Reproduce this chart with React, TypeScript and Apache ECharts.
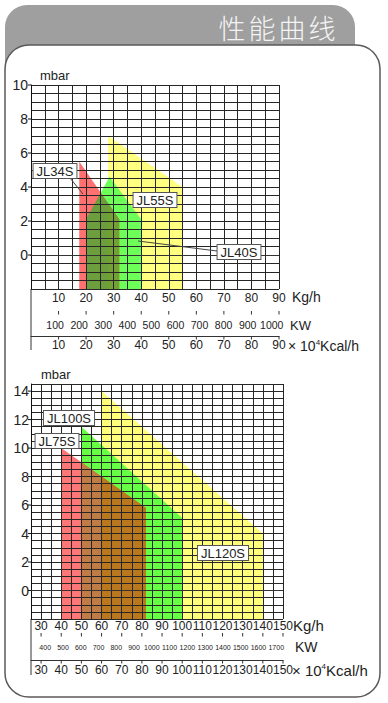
import React, { useEffect, useRef } from 'react';
import * as echarts from 'echarts';

// ---------- Top chart (JL34S / JL40S / JL55S) ----------
const topKgTicks = [10, 20, 30, 40, 50, 60, 70, 80, 90];
const topKwLabels = [100, 200, 300, 400, 500, 600, 700, 800, 900, 1000];
const topKcalLabels = [10, 20, 30, 40, 50, 60, 70, 80, 90];
const topYLabels = [0, 2, 4, 6, 8, 10];
const jl34s = [[17.5, -2], [17.5, 5.5], [32, 2.1], [32, -2]];
const jl40s = [[20, -2], [20, 2.1], [28.5, 4.6], [40, 2.1], [40, -2]];
const jl55s = [[28, -2], [28, 7], [55, 4], [55, -2]];

// ---------- Bottom chart (JL75S / JL100S / JL120S) ----------
const botKgTicks = [30, 40, 50, 60, 70, 80, 90, 100, 110, 120, 130, 140, 150];
const botKwLabels = [400, 500, 600, 700, 800, 900, 1000, 1100, 1200, 1300, 1400, 1500, 1600, 1700];
const botKcalLabels = [30, 40, 50, 60, 70, 80, 90, 100, 110, 120, 130, 140, 150];
const botYLabels = [0, 2, 4, 6, 8, 10, 12, 14];
const jl75s = [[40, -2], [40, 10], [82, 5.8], [82, -2]];
const jl100s = [[50, -2], [50, 11.5], [100, 5.1], [100, -2]];
const jl120s = [[60, -2], [60, 14], [140, 4], [140, -2]];

type P = number[];

function signedArea(poly: P[]) {
  let s = 0;
  for (let i = 0; i < poly.length; i++) {
    const a = poly[i], b = poly[(i + 1) % poly.length];
    s += a[0] * b[1] - b[0] * a[1];
  }
  return s / 2;
}

function intersect(p1: P, p2: P, a: P, b: P): P {
  const [x1, y1] = p1, [x2, y2] = p2, [x3, y3] = a, [x4, y4] = b;
  const den = (x1 - x2) * (y3 - y4) - (y1 - y2) * (x3 - x4);
  const t = ((x1 - x3) * (y3 - y4) - (y1 - y3) * (x3 - x4)) / den;
  return [x1 + t * (x2 - x1), y1 + t * (y2 - y1)];
}

function clipPoly(subject: P[], clip: P[]): P[] {
  const sign = signedArea(clip) >= 0 ? 1 : -1;
  let out = subject.slice();
  for (let i = 0; i < clip.length; i++) {
    const a = clip[i], b = clip[(i + 1) % clip.length];
    const inside = (p: P) => sign * ((b[0] - a[0]) * (p[1] - a[1]) - (b[1] - a[1]) * (p[0] - a[0])) >= -1e-9;
    const input = out;
    out = [];
    for (let j = 0; j < input.length; j++) {
      const cur = input[j], prev = input[(j + input.length - 1) % input.length];
      const ci = inside(cur), pi = inside(prev);
      if (ci) {
        if (!pi) out.push(intersect(prev, cur, a, b));
        out.push(cur);
      } else if (pi) {
        out.push(intersect(prev, cur, a, b));
      }
    }
    if (!out.length) break;
  }
  return out;
}

const FONT = 'Liberation Sans, Arial, Helvetica, sans-serif';
const TXT = '#222';
const GRIDLINE = { color: '#262626', width: 1 };
const fmt = (v: number) => String(v);

function polySeries(xIdx: number, yIdx: number, layers: { poly: P[]; color: string }[]) {
  return {
    type: 'custom',
    xAxisIndex: xIdx,
    yAxisIndex: yIdx,
    z: 1,
    silent: true,
    data: layers.map((_, i) => [i, 0]),
    renderItem: (params: any, api: any) => {
      const l = layers[params.dataIndex];
      if (!l.poly.length) return null;
      return {
        type: 'polygon',
        shape: { points: l.poly.map((p) => api.coord(p)) },
        style: { fill: l.color, stroke: null },
      };
    },
  };
}

// tick marks below the grid (on the KW and Kcal scale lines), placed through the x scale
function xTickSeries(xIdx: number, yIdx: number, values: number[], yMin: number, offsets: number[]) {
  return {
    type: 'custom', xAxisIndex: xIdx, yAxisIndex: yIdx, z: 6, silent: true, clip: false,
    data: values.map((v) => [v, yMin]),
    renderItem: (params: any, api: any) => {
      const [x, y] = api.coord([api.value(0), api.value(1)]);
      return {
        type: 'group',
        children: offsets.map((o) => ({
          type: 'line',
          shape: { x1: x, y1: y + o, x2: x, y2: y + o + 3.5 },
          style: { stroke: '#333', lineWidth: 1 },
        })),
      };
    },
  };
}

function yTickSeries(xIdx: number, yIdx: number, values: number[], xMin: number) {
  return {
    type: 'custom', xAxisIndex: xIdx, yAxisIndex: yIdx, z: 6, silent: true, clip: false,
    data: values.map((v) => [xMin, v]),
    renderItem: (params: any, api: any) => {
      const [x, y] = api.coord([api.value(0), api.value(1)]);
      return {
        type: 'line',
        shape: { x1: x - 3, y1: y, x2: x, y2: y },
        style: { stroke: '#111', lineWidth: 1 },
      };
    },
  };
}

function gridXAxis(grid: number, min: number, max: number, labels: number[], margin: number) {
  return {
    type: 'value', gridIndex: grid, min, max, interval: 5, position: 'bottom', z: 5,
    axisLine: { show: true, lineStyle: { color: '#111', width: 1 } },
    axisTick: { show: false },
    splitLine: { show: true, lineStyle: GRIDLINE },
    axisLabel: { customValues: labels, formatter: fmt, fontSize: 12, color: TXT, fontFamily: FONT, margin },
  };
}

function lineAxis(grid: number, min: number, max: number, offset: number, labels: number[] | null, fontSize: number, margin: number) {
  return {
    type: 'value', gridIndex: grid, min, max, position: 'bottom', offset, z: 5,
    axisLine: { show: true, lineStyle: { color: '#333', width: 1 } },
    axisTick: { show: false },
    splitLine: { show: false },
    axisLabel: labels
      ? { show: true, customValues: labels, formatter: fmt, fontSize, color: TXT, fontFamily: FONT, margin }
      : { show: false },
  };
}

function labelAxis(grid: number, min: number, max: number, labels: number[], offset: number, fontSize: number, margin: number) {
  return {
    type: 'value', gridIndex: grid, min, max, position: 'bottom', offset, z: 5,
    axisLine: { show: false },
    axisTick: { show: false },
    splitLine: { show: false },
    axisLabel: { show: true, customValues: labels, formatter: fmt, fontSize, color: TXT, fontFamily: FONT, margin },
  };
}

function gridYAxis(grid: number, min: number, max: number) {
  return {
    type: 'value', gridIndex: grid, min, max, interval: 0.5, position: 'left', z: 5,
    axisLine: { show: true, lineStyle: { color: '#111', width: 1 } },
    axisTick: { show: false },
    axisLabel: { show: false },
    splitLine: { show: true, lineStyle: GRIDLINE },
  };
}

function labelYAxis(grid: number, min: number, max: number, labels: number[], margin: number) {
  return {
    type: 'value', gridIndex: grid, min, max, position: 'left', z: 5,
    axisLine: { show: false },
    axisTick: { show: false },
    splitLine: { show: false },
    axisLabel: { show: true, customValues: labels, formatter: fmt, fontSize: 14, color: TXT, fontFamily: FONT, margin },
  };
}

function boxLabel(text: string, x: number, y: number) {
  return {
    type: 'text', x, y, z: 20,
    style: {
      text, fill: '#222', font: `13px ${FONT}`, align: 'center', verticalAlign: 'middle',
      backgroundColor: '#fff', borderColor: '#555', borderWidth: 1, padding: [1, 3, 0, 3],
    },
  };
}

function plainText(text: string, x: number, y: number, size: number) {
  return {
    type: 'text', x, y, z: 20,
    style: { text, fill: '#222', font: `${size}px ${FONT}`, align: 'left', verticalAlign: 'middle' },
  };
}

function kcalText(x: number, y: number, size: number) {
  return {
    type: 'text', x, y, z: 20,
    style: {
      text: '× 10{s|4}Kcal/h', fill: '#222', font: `${size}px ${FONT}`, align: 'left', verticalAlign: 'middle',
      rich: { s: { fontSize: Math.round(size * 0.55), fontFamily: FONT, fill: '#222', verticalAlign: 'top', padding: [0, 0, 8, 0] } },
    },
  };
}

export default function App() {
  const ref = useRef<HTMLDivElement>(null);
  useEffect(() => {
    if (!ref.current) return;
    const chart = echarts.init(ref.current, null, { renderer: 'svg' });

    const topLayers = [
      { poly: jl55s, color: '#ffff80' },
      { poly: jl40s, color: '#6dff58' },
      { poly: jl34s, color: '#ff7070' },
      { poly: clipPoly(jl34s, jl40s), color: '#6c9e3e' },
      { poly: clipPoly(clipPoly(jl34s, jl40s), jl55s), color: '#74a036' },
    ];
    const botLayers = [
      { poly: jl120s, color: '#ffff7a' },
      { poly: jl100s, color: '#66ff44' },
      { poly: jl75s, color: '#ff7676' },
      { poly: clipPoly(jl75s, jl100s), color: '#c07c46' },
      { poly: clipPoly(clipPoly(jl75s, jl100s), jl120s), color: '#b9781e' },
    ];

    const title = ['性', '能', '曲', '线'];

    chart.setOption({
      animation: false,
      grid: [
        { left: 31, top: 85, width: 248, height: 204, containLabel: false },
        { left: 31, top: 384, width: 252, height: 235, containLabel: false },
      ],
      xAxis: [
        gridXAxis(0, 0, 90, topKgTicks, 3),
        lineAxis(0, 0, 90, 22, null, 12, 0),
        labelAxis(0, 0, 1030, topKwLabels, 22, 10.5, 8),
        lineAxis(0, 0, 90, 47, topKcalLabels, 12, 3),
        gridXAxis(1, 25, 150, botKgTicks, 1),
        lineAxis(1, 25, 150, 14, null, 12, 0),
        labelAxis(1, 320, 1738, botKwLabels, 14, 7, 11),
        lineAxis(1, 25, 150, 41, botKcalLabels, 12, 4),
      ],
      yAxis: [
        gridYAxis(0, -2, 10),
        labelYAxis(0, -2, 10, topYLabels, 3),
        gridYAxis(1, -2, 14.5),
        labelYAxis(1, -2, 14.5, botYLabels, 2),
      ],
      series: [
        polySeries(0, 0, topLayers),
        polySeries(4, 2, botLayers),
        xTickSeries(0, 0, topKgTicks, -2, [22, 47]),
        xTickSeries(4, 2, botKgTicks, -2, [14, 41]),
        yTickSeries(0, 0, topYLabels, 0),
        yTickSeries(4, 2, botYLabels, 25),
      ],
      graphic: {
        elements: [
          { type: 'rect', z: -20, shape: { x: 5, y: 5, width: 350, height: 90, r: [22, 22, 0, 0] }, style: { fill: '#9f9f9f' } },
          { type: 'rect', z: -10, shape: { x: 5, y: 45, width: 375, height: 652, r: 24 }, style: { fill: '#fff', stroke: '#5a5a5a', lineWidth: 1.5 } },
          ...title.map((c, i) => ({
            type: 'text', x: 232 + i * 30, y: 27, z: 20,
            style: { text: c, fill: '#f4f4f4', font: `300 27px "Noto Sans CJK SC", sans-serif`, align: 'center', verticalAlign: 'middle' },
          })),
          // extended left axis lines
          { type: 'line', z: 6, shape: { x1: 31, y1: 289, x2: 31, y2: 350 }, style: { stroke: '#333', lineWidth: 1 } },
          { type: 'line', z: 6, shape: { x1: 31, y1: 619, x2: 31, y2: 675 }, style: { stroke: '#333', lineWidth: 1 } },
          // units
          plainText('mbar', 40, 75, 13),
          plainText('Kg/h', 292, 297, 14),
          plainText('KW', 290, 325, 13),
          kcalText(288, 346, 14),
          plainText('mbar', 41, 374, 13),
          plainText('Kg/h', 293, 625, 15),
          plainText('KW', 295, 647, 14),
          kcalText(292, 670, 15),
          // model labels & leaders
          { type: 'line', z: 19, shape: { x1: 70, y1: 178, x2: 83, y2: 194 }, style: { stroke: '#444', lineWidth: 1 } },
          { type: 'line', z: 19, shape: { x1: 138, y1: 241, x2: 217, y2: 251 }, style: { stroke: '#444', lineWidth: 1 } },
          boxLabel('JL34S', 55, 171),
          boxLabel('JL55S', 155, 200),
          boxLabel('JL40S', 239, 252),
          boxLabel('JL100S', 69, 418),
          boxLabel('JL75S', 57, 441),
          boxLabel('JL120S', 223, 553),
        ],
      },
    });
    return () => chart.dispose();
  }, []);
  return (
    <div
      ref={ref}
      style={{ position: 'absolute', left: 0, top: 0, width: 388, height: 703, background: '#fff' }}
    />
  );
}
